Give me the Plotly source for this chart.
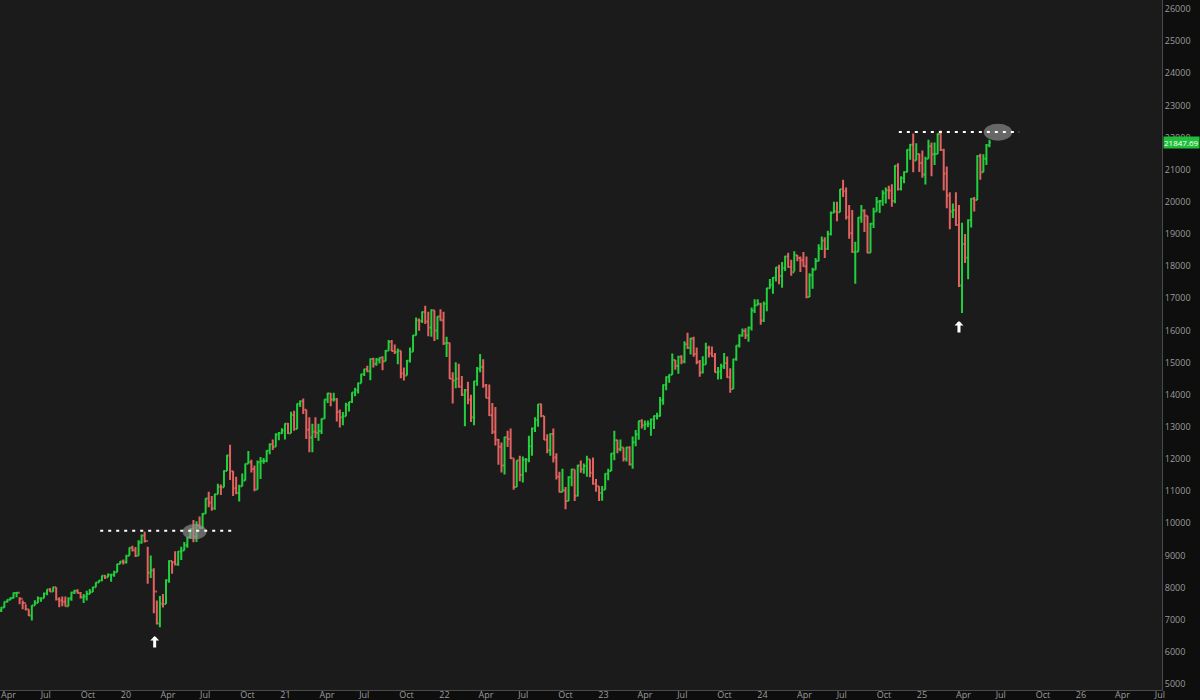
import plotly.graph_objects as go
import pandas as pd

GREEN = "#22cf3c"
RED = "#e2625f"
PLOT_BG = "#1b1b1b"
PAPER_BG = "#0e0e0e"
AXIS_LINE = "#4a4a4a"
TICK_TEXT = "#9c9c9c"

# weekly bars (Wednesday of each week)
year_starts = ["2019-03-20", "2020-01-01", "2021-01-06", "2022-01-05",
               "2023-01-04", "2024-01-03", "2025-01-01"]
first_open = 7400

close_2019 = [7290, 7378, 7560, 7620, 7680, 7830, 7840, 7650, 7520, 7330,
              7130, 7440, 7520, 7670, 7670, 7820, 7940, 7880, 8010, 7640,
              7600, 7560, 7420, 7660, 7850, 7900, 7830, 7700, 7720, 7800,
              7860, 8010, 8160, 8220, 8370, 8320, 8400, 8400, 8480, 8730, 8810]
high_2019 = [7480, 7400, 7570, 7640, 7700, 7850, 7850, 7700, 7600, 7480,
             7330, 7450, 7610, 7720, 7690, 7850, 7950, 7990, 8030, 8010,
             7700, 7720, 7720, 7700, 7870, 7930, 7950, 7860, 7800, 7900,
             7960, 8030, 8170, 8230, 8380, 8390, 8440, 8410, 8520, 8740, 8830]
low_2019 = [7280, 7240, 7370, 7540, 7610, 7660, 7700, 7480, 7330, 7290,
            7120, 6980, 7440, 7520, 7560, 7670, 7760, 7860, 7870, 7600,
            7390, 7420, 7410, 7420, 7590, 7800, 7820, 7660, 7520, 7600,
            7790, 7860, 8010, 8150, 8200, 8270, 8320, 8180, 8340, 8480, 8730]

close_2020 = [8790, 8990, 9240, 9160, 8990, 9400, 9620, 9450, 8460, 8530,
              7880, 6880, 7500, 7490, 8230, 8830, 8790, 8720, 9120, 9150,
              9320, 9560, 9820, 9590, 9950, 9850, 10300, 10770, 10640, 10460,
              10900, 11140, 11120, 11630, 12110, 11620, 11090, 10940, 11150, 11330,
              11850, 11900, 11690, 11050, 11900, 11940, 11940, 12260, 12460, 12380,
              12760, 12800, 12890]
high_2020 = [8870, 9020, 9250, 9300, 9260, 9470, 9650, 9740, 9270, 9000,
             8600, 7600, 7740, 7800, 8260, 8850, 8830, 9130, 9140, 9270,
             9420, 9570, 9840, 10100, 10060, 10210, 10320, 10780, 10980, 10850,
             10920, 11230, 11210, 11650, 12130, 12440, 11630, 11450, 11200, 11550,
             11860, 12250, 11980, 11800, 11950, 12060, 12030, 12270, 12480, 12610,
             12800, 12840, 12960]
low_2020 = [8720, 8750, 8990, 9120, 8950, 8990, 9360, 9400, 8120, 8300,
            7200, 6850, 6770, 7380, 7490, 8150, 8430, 8690, 8680, 8860,
            9150, 9240, 9530, 9410, 9420, 9830, 9840, 10300, 10500, 10390,
            10420, 10900, 10880, 11120, 11630, 11350, 10850, 10900, 10680, 11150,
            11330, 11850, 11580, 11000, 11050, 11380, 11850, 11900, 12150, 12280,
            12380, 12580, 12780]

close_2021 = [13100, 12800, 13370, 12930, 13720, 13800, 13530, 12910, 12670, 12850,
              12820, 12870, 13250, 13850, 14040, 13850, 13860, 13460, 13300, 13330,
              13690, 13770, 14070, 14140, 14360, 14640, 14790, 14730, 15110, 14960,
              15090, 15150, 15040, 15370, 15650, 15360, 15330, 15370, 14660, 14600,
              15060, 15340, 15850, 16320, 16290, 16570, 16280, 16090, 16630, 16000,
              16430, 16320]
high_2021 = [13110, 13120, 13470, 13500, 13730, 13830, 13880, 13530, 13300, 13100,
             13300, 13100, 13260, 13860, 14060, 14050, 14060, 13900, 13540, 13460,
             13750, 13780, 14080, 14220, 14380, 14650, 14810, 14900, 15130, 15150,
             15140, 15160, 15200, 15390, 15700, 15700, 15560, 15440, 15370, 14850,
             15080, 15470, 15860, 16400, 16370, 16590, 16770, 16580, 16660, 16630,
             16440, 16660]
low_2021 = [12610, 12780, 12800, 12880, 12930, 13620, 13400, 12620, 12210, 12210,
            12650, 12570, 12780, 13250, 13740, 13640, 13790, 13170, 12980, 13050,
            13330, 13480, 13740, 13950, 14040, 14360, 14580, 14700, 14450, 14850,
            14900, 14970, 14760, 15040, 15370, 15350, 15270, 14950, 14510, 14440,
            14600, 15000, 15340, 15840, 15990, 16230, 16200, 15820, 15800, 15670,
            15720, 16300]

close_2022 = [15600, 15610, 14500, 14440, 14500, 14250, 14000, 14140, 13840, 13300,
              14420, 14810, 14860, 14290, 13900, 13360, 12850, 12600, 12380, 11800,
              12680, 12620, 12020, 11130, 11950, 11500, 11980, 11980, 12400, 12950,
              13210, 13700, 13340, 12600, 12270, 12780, 12050, 11450, 10970, 11030,
              10690, 11430, 11670, 10860, 11800, 11680, 11780, 11990, 11570, 11230,
              11150, 10940]
high_2022 = [16580, 15800, 15620, 14700, 15010, 14960, 14580, 14180, 14400, 14000,
             14430, 14860, 15270, 15100, 14330, 14320, 13740, 13620, 12620, 12510,
             12690, 12880, 12950, 12020, 11960, 12100, 12080, 12030, 12720, 12980,
             13300, 13710, 13720, 13340, 12770, 12800, 12950, 12180, 11600, 11700,
             11130, 11460, 11700, 11670, 11820, 11950, 11860, 12100, 11990, 12050,
             11380, 11150]
low_2022 = [15550, 15170, 14490, 13730, 14200, 14220, 13960, 13020, 13700, 13150,
            13050, 14280, 14700, 14220, 13890, 13340, 12780, 12420, 11820, 11580,
            11520, 12370, 12000, 11040, 11130, 11310, 11270, 11590, 11900, 12100,
            12840, 13000, 13300, 12590, 12180, 12100, 11890, 11360, 10960, 10970,
            10440, 10690, 11150, 10690, 10830, 11570, 11540, 11450, 11430, 11200,
            10980, 10690]

close_2023 = [11040, 11540, 11630, 12170, 12580, 12300, 12360, 12010, 12360, 11830,
              12520, 12770, 13180, 13050, 13080, 13100, 13230, 13340, 13340, 13830,
              14300, 14550, 14620, 15080, 14890, 15180, 15030, 15570, 15460, 15750,
              15270, 15020, 14690, 14940, 15460, 15280, 15200, 14700, 14720, 14880,
              14990, 14540, 14180, 15100, 15530, 15840, 15980, 15840, 16080, 16620,
              16780, 16830]
high_2023 = [11160, 11560, 11700, 12190, 12880, 12600, 12610, 12360, 12380, 12400,
             12700, 12900, 13190, 13240, 13200, 13200, 13260, 13350, 13440, 13930,
             14320, 14570, 14640, 15280, 15080, 15210, 15230, 15660, 15930, 15770,
             15800, 15470, 15080, 15200, 15620, 15520, 15500, 15300, 14860, 14960,
             15300, 15190, 14820, 15120, 15540, 15880, 16060, 16070, 16120, 16710,
             16970, 16970]
low_2023 = [10700, 11040, 11340, 11630, 11960, 12180, 12240, 11920, 11920, 11800,
            11700, 12400, 12600, 12950, 12900, 12990, 12720, 12930, 13230, 13320,
            13690, 14140, 14370, 14620, 14780, 14650, 14950, 14980, 15420, 15250,
            15180, 14950, 14560, 14660, 14940, 15160, 15180, 14690, 14470, 14480,
            14800, 14530, 14060, 14180, 15060, 15470, 15800, 15730, 15650, 16000,
            16540, 16780]

close_2024 = [16310, 16830, 17310, 17420, 17640, 17960, 17690, 17940, 18300, 17970,
              17810, 18340, 18250, 18180, 18000, 17040, 17720, 17890, 18160, 18550,
              18800, 18540, 19000, 19660, 19700, 19680, 20390, 20330, 19520, 19020,
              18440, 18450, 19510, 19720, 19570, 18420, 19320, 19700, 20000, 20030,
              20270, 20360, 20350, 20030, 21120, 20400, 20740, 20930, 21620, 21780,
              21290, 21490]
high_2024 = [16850, 16900, 17330, 17600, 17660, 17970, 18040, 18130, 18320, 18420,
             18200, 18460, 18350, 18300, 18440, 18300, 17780, 17950, 18250, 18680,
             18920, 18900, 19100, 19700, 20000, 20000, 20400, 20690, 20450, 19900,
             19750, 18760, 19530, 19900, 19770, 19570, 19350, 19820, 20150, 20060,
             20360, 20450, 20500, 20550, 21140, 21200, 20800, 20950, 21640, 21800,
             22130, 21820]
low_2024 = [16180, 16260, 16600, 17300, 17140, 17520, 17440, 17330, 17850, 17950,
            17700, 17830, 18150, 17820, 17980, 17000, 17040, 17300, 17890, 18150,
            18500, 18250, 18500, 18950, 19650, 19400, 19680, 20150, 19450, 18850,
            18420, 17450, 18450, 19350, 19060, 18400, 18420, 19190, 19700, 19650,
            19880, 19950, 20080, 19850, 19960, 20350, 20350, 20580, 20920, 21310,
            20920, 21290]

close_2025 = [21210, 20850, 21340, 21730, 21480, 21490, 22110, 21610, 20880, 20200,
              19700, 19750, 19280, 17400, 18690, 18260, 19430, 20100, 20060, 21430,
              20920, 21340, 21760, 21847.69]
high_2025 = [21500, 21600, 21400, 21930, 21850, 21850, 22130, 22220, 21650, 21100,
             20300, 19950, 20300, 19900, 19350, 19000, 19460, 20120, 20150, 21450,
             21500, 21480, 21800, 21930]
low_2025 = [20930, 20750, 20540, 21340, 20800, 21150, 21490, 21580, 20350, 19800,
            19150, 19500, 19260, 17350, 16540, 18100, 17590, 19200, 19700, 20060,
            20690, 20920, 21150, 21700]

closes_by_year = [close_2019, close_2020, close_2021, close_2022,
                  close_2023, close_2024, close_2025]
highs_by_year = [high_2019, high_2020, high_2021, high_2022,
                 high_2023, high_2024, high_2025]
lows_by_year = [low_2019, low_2020, low_2021, low_2022,
                low_2023, low_2024, low_2025]

x_tick_dates = ["2019-04-01", "2019-07-01", "2019-10-01",
                "2020-01-01", "2020-04-01", "2020-07-01", "2020-10-01",
                "2021-01-01", "2021-04-01", "2021-07-01", "2021-10-01",
                "2022-01-01", "2022-04-01", "2022-07-01", "2022-10-01",
                "2023-01-01", "2023-04-01", "2023-07-01", "2023-10-01",
                "2024-01-01", "2024-04-01", "2024-07-01", "2024-10-01",
                "2025-01-01", "2025-04-01", "2025-07-01", "2025-10-01",
                "2026-01-01", "2026-04-01", "2026-07-01"]
x_tick_text = ["Apr", "Jul", "Oct",
               "20", "Apr", "Jul", "Oct",
               "21", "Apr", "Jul", "Oct",
               "22", "Apr", "Jul", "Oct",
               "23", "Apr", "Jul", "Oct",
               "24", "Apr", "Jul", "Oct",
               "25", "Apr", "Jul", "Oct",
               "26", "Apr", "Jul"]
y_ticks = [5000, 6000, 7000, 8000, 9000, 10000, 11000, 12000, 13000, 14000, 15000,
           16000, 17000, 18000, 19000, 20000, 21000, 22000, 23000, 24000, 25000, 26000]

last_price = 21847.69

# assemble the weekly table
dates, close, high, low = [], [], [], []
for start, c, h, l in zip(year_starts, closes_by_year, highs_by_year, lows_by_year):
    dates += list(pd.date_range(start, periods=len(c), freq="7D"))
    close += c
    high += h
    low += l
opens = [first_open] + close[:-1]

fig = go.Figure()
fig.add_trace(go.Ohlc(
    x=dates, open=opens, high=high, low=low, close=close,
    increasing=dict(line=dict(color=GREEN, width=2)),
    decreasing=dict(line=dict(color=RED, width=2)),
    tickwidth=0.45, showlegend=False, hoverinfo="skip",
))

# breakout markers: dotted resistance, grey ellipse, white arrows
fig.add_shape(type="circle", xref="x", yref="y",
              x0="2020-05-16", x1="2020-07-10", y0=9500, y1=9975,
              fillcolor="rgba(150,150,150,0.62)", line=dict(width=0))
fig.add_shape(type="circle", xref="x", yref="y",
              x0="2025-05-29", x1="2025-08-02", y0=21900, y1=22430,
              fillcolor="rgba(150,150,150,0.62)", line=dict(width=0))
fig.add_shape(type="line", xref="x", yref="y",
              x0="2019-11-09", x1="2020-09-14", y0=9770, y1=9770,
              line=dict(color="white", width=2, dash="3px,5px"))
fig.add_shape(type="line", xref="x", yref="y",
              x0="2024-11-15", x1="2025-08-18", y0=22175, y1=22175,
              line=dict(color="white", width=2, dash="3px,5px"))

for ax_date, tip in [("2020-03-13", 6494), ("2025-04-02", 16294)]:
    fig.add_annotation(x=ax_date, y=tip, xref="x", yref="y", text="",
                       showarrow=True, ax=0, ay=13, arrowhead=1, arrowsize=0.5,
                       arrowwidth=3, arrowcolor="white")

fig.add_annotation(x=1, y=last_price, xref="paper", yref="y",
                   text=f"{last_price:.2f}", showarrow=False,
                   xanchor="left", xshift=1, bgcolor="#1fbf39", borderpad=0,
                   font=dict(color="white", size=8, family="Open Sans"))

fig.update_layout(
    width=1200, height=700,
    paper_bgcolor=PAPER_BG, plot_bgcolor=PLOT_BG,
    margin=dict(l=0, r=38, t=0, b=10),
    showlegend=False,
    font=dict(family="Open Sans", size=9, color=TICK_TEXT),
    xaxis=dict(
        type="date", range=["2019-03-24", "2026-07-12"],
        tickvals=x_tick_dates, ticktext=x_tick_text, ticks="",
        ticklabelposition="outside right", ticklabelstandoff=-4,
        ticklabelshift=-3,
        showgrid=False, zeroline=False, showline=True,
        linecolor=AXIS_LINE, linewidth=1,
        rangeslider=dict(visible=False), automargin=False,
        tickfont=dict(size=9, color=TICK_TEXT),
    ),
    yaxis=dict(
        side="right", range=[4814, 26280],
        tickvals=y_ticks, tickformat="d", ticks="",
        showgrid=False, zeroline=False, showline=True,
        linecolor=AXIS_LINE, linewidth=1, automargin=False,
        tickfont=dict(size=9, color=TICK_TEXT),
    ),
)

fig.write_html(
    "out.html",
    config={"displayModeBar": False},
    post_script="document.body.style.margin='0';document.body.style.overflow='hidden';",
)
